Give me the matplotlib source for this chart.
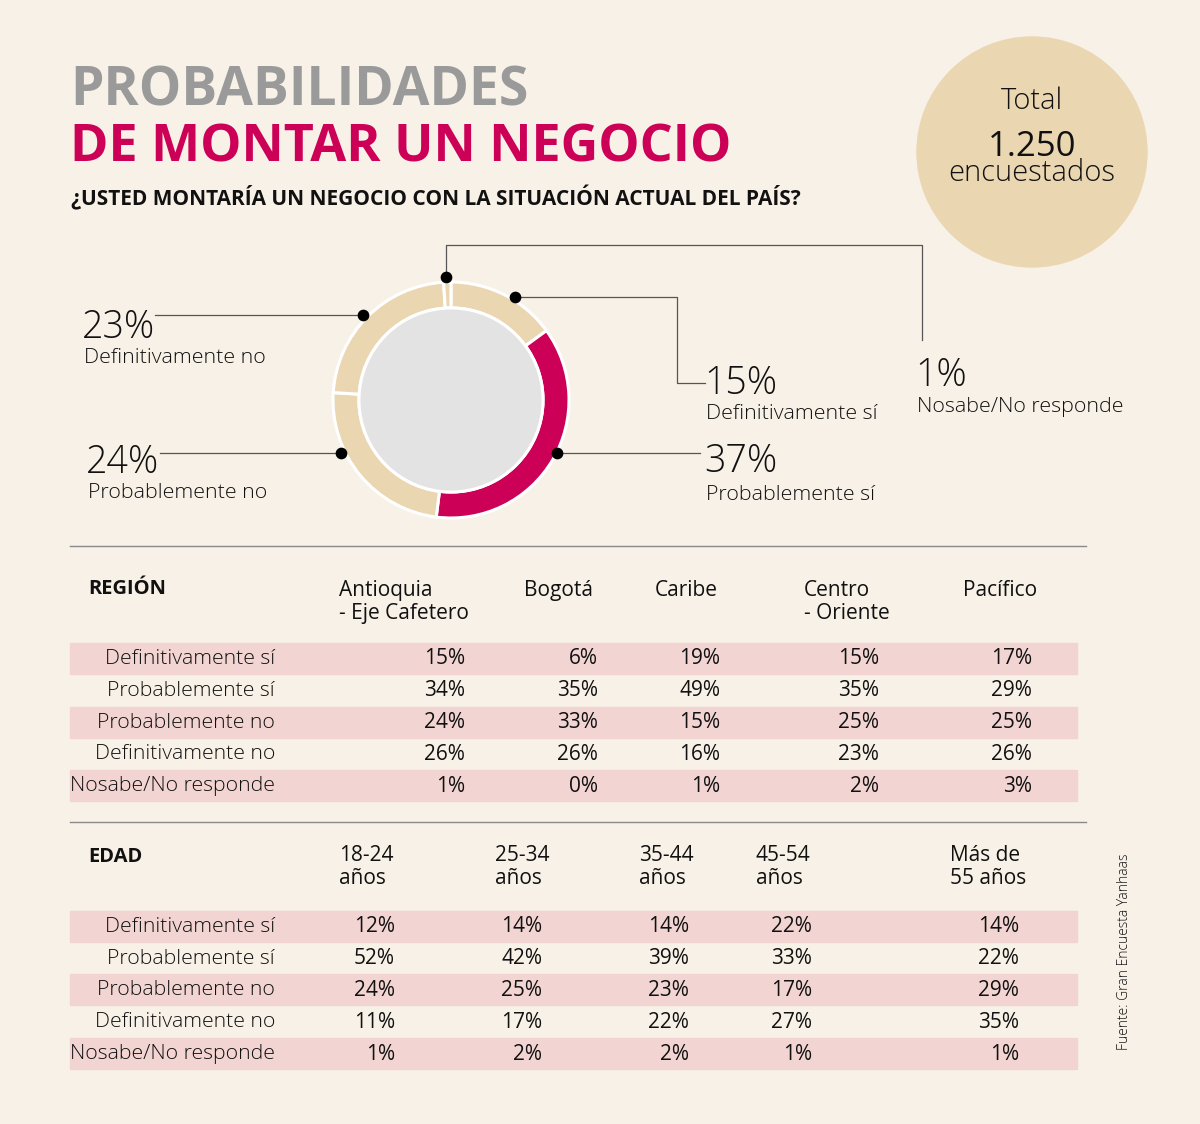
import matplotlib.pyplot as plt
from matplotlib.patches import Circle, Rectangle

BG = "#f8f1e7"
BEIGE = "#ead7b2"
CRIMSON = "#cc0057"
PINK = "#f2d5d2"
GRAY_TITLE = "#9a9a9a"
FONT = "Open Sans"

# donut data (clockwise from top)
donut_labels = ["Definitivamente sí", "Probablemente sí", "Probablemente no",
                "Definitivamente no", "Nosabe/No responde"]
donut_values = [15, 37, 24, 23, 1]
donut_colors = [BEIGE, CRIMSON, BEIGE, BEIGE, BEIGE]

answers = ["Definitivamente sí", "Probablemente sí", "Probablemente no",
           "Definitivamente no", "Nosabe/No responde"]

regions = ["Antioquia\n- Eje Cafetero", "Bogotá", "Caribe", "Centro\n- Oriente", "Pacífico"]
region_values = [
    [15, 6, 19, 15, 17],
    [34, 35, 49, 35, 29],
    [24, 33, 15, 25, 25],
    [26, 26, 16, 23, 26],
    [1, 0, 1, 2, 3],
]

ages = ["18-24\naños", "25-34\naños", "35-44\naños", "45-54\naños", "Más de\n55 años"]
age_values = [
    [12, 14, 14, 22, 14],
    [52, 42, 39, 33, 22],
    [24, 25, 23, 17, 29],
    [11, 17, 22, 27, 35],
    [1, 2, 2, 1, 1],
]

total = "1.250"

W, H = 1200, 1124
fig = plt.figure(figsize=(W / 100, H / 100), dpi=100, facecolor=BG)
ax = fig.add_axes([0, 0, 1, 1])
ax.set_xlim(0, W)
ax.set_ylim(H, 0)
ax.axis("off")
ax.set_facecolor(BG)

# titles
ax.text(70, 91, "PROBABILIDADES", fontsize=38.5, fontweight="bold", color=GRAY_TITLE,
        family=FONT, va="center", ha="left")
ax.text(70, 148, "DE MONTAR UN NEGOCIO", fontsize=37.5, fontweight="bold", color=CRIMSON,
        family=FONT, va="center", ha="left")
ax.text(71, 198, "¿USTED MONTARÍA UN NEGOCIO CON LA SITUACIÓN ACTUAL DEL PAÍS?",
        fontsize=15, fontweight="bold", color="#111111", family=FONT, va="center")

# total circle
ax.add_patch(Circle((1032, 152), 115, color=BEIGE, zorder=1))
ax.text(1032, 101, "Total", fontsize=21, fontweight="light", family=FONT,
        ha="center", va="center", color="#111111", zorder=2)
ax.text(1032, 156, total, fontsize=25, fontweight="medium", family=FONT,
        ha="center", va="baseline", color="#111111", zorder=2)
ax.text(1032, 181, "encuestados", fontsize=21, fontweight="light", family=FONT,
        ha="center", va="baseline", color="#111111", zorder=2)

# donut
cx, cy, R = 451, 400, 118
pad = 4
pax = fig.add_axes([(cx - R - pad) / W, (H - cy - R - pad) / H,
                    (2 * R + 2 * pad) / W, (2 * R + 2 * pad) / H])
pax.pie(donut_values, colors=donut_colors, startangle=90, counterclock=False,
        radius=1.0, wedgeprops=dict(width=0.22, edgecolor="white", linewidth=2.2))
pax.add_patch(Circle((0, 0), 0.78, facecolor="#e3e3e3", edgecolor="white", linewidth=2.2))
pax.set_xlim(-1 - pad / R, 1 + pad / R)
pax.set_ylim(-1 - pad / R, 1 + pad / R)
pax.axis("off")

# leader lines (pixel layout)
lc = "#555555"
lw = 0.9
ax.plot([155, 363], [315, 315], color=lc, lw=lw)
ax.plot([160, 341], [453, 453], color=lc, lw=lw)
ax.plot([557, 700], [453, 453], color=lc, lw=lw)
ax.plot([515, 677, 677, 705], [297, 297, 383, 383], color=lc, lw=lw)
ax.plot([446, 446, 922, 922], [277, 245, 245, 340], color=lc, lw=lw)
dots_x = [363, 341, 557, 515, 446]
dots_y = [315, 453, 453, 297, 277]
dax = fig.add_axes([0, 0, 1, 1])
dax.set_xlim(0, W)
dax.set_ylim(H, 0)
dax.axis("off")
dax.scatter(dots_x, dots_y, s=55, color="black", zorder=5)

# donut labels
label_pos = {
    "Definitivamente no": (84, 328, 358),
    "Probablemente no": (88, 463, 493),
    "Definitivamente sí": (706, 384, 414),
    "Probablemente sí": (706, 462, 495),
    "Nosabe/No responde": (917, 376, 407),
}
for lab, val in zip(donut_labels, donut_values):
    x, y1, y2 = label_pos[lab]
    ax.text(x - 2, y1, f"{val}%", fontsize=27, fontweight="light", family=FONT,
            va="center", ha="left", color="#111111")
    ax.text(x, y2, lab, fontsize=15.4, fontweight="light", family=FONT,
            va="center", ha="left", color="#111111")

# separators
ax.plot([70, 1086], [546, 546], color="#8a8a8a", lw=1)
ax.plot([70, 1086], [822, 822], color="#8a8a8a", lw=1)


def draw_table(title, title_y, cols, col_x, val_x, head_y, rows_y, values):
    ax.text(88, title_y, title, fontsize=14.5, fontweight="bold", family=FONT,
            va="center", ha="left", color="#111111")
    for c, x in zip(cols, col_x):
        ax.text(x, head_y, c, fontsize=15, family=FONT, va="top", ha="left",
                color="#111111", linespacing=1.1)
    for i, (ans, y) in enumerate(zip(answers, rows_y)):
        if i % 2 == 0:
            ax.add_patch(Rectangle((70, y - 15.5), 1007, 31, color=PINK, zorder=0))
        ax.text(275, y + 1, ans, fontsize=15.3, fontweight="light", family=FONT,
                va="center", ha="right", color="#111111")
        for v, x in zip(values[i], val_x):
            ax.text(x, y + 1, f"{v}%", fontsize=15, family=FONT,
                    va="center", ha="right", color="#111111")


draw_table("REGIÓN", 589, regions, [339, 524, 655, 804, 963],
           [465, 598, 720, 879, 1032], 580, [658, 690, 722, 753, 785], region_values)
draw_table("EDAD", 857, ages, [339, 495, 639, 756, 950],
           [395, 542, 689, 812, 1019], 845, [926, 958, 989, 1021, 1053], age_values)

ax.text(1125, 952, "Fuente: Gran Encuesta Yanhaas", fontsize=10, fontweight="light",
        family=FONT, rotation=90, va="center", ha="center", color="#111111")

fig.savefig("out.png", dpi=100, facecolor=BG)
